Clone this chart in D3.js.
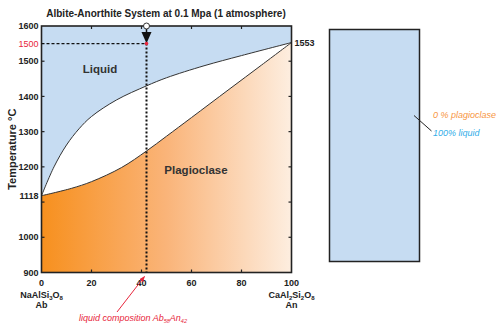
<!DOCTYPE html>
<html><head><meta charset="utf-8">
<script src="https://cdn.jsdelivr.net/npm/d3@7"></script>
<style>
body{margin:0;background:#fff;}
svg{font-family:"Liberation Sans",Arial,Helvetica,sans-serif;}
</style></head>
<body><svg id="c" width="500" height="325"></svg>
<script>
// ---- data ----
const title = "Albite-Anorthite System at 0.1 Mpa (1 atmosphere)";
const liquidusX = [0, 5, 10, 15, 20, 30, 42, 50, 65, 80, 100];
const liquidusT = [1118, 1200, 1262, 1308, 1343, 1390, 1430, 1453, 1487, 1516, 1553];
const solidusX = [0, 12, 20, 32, 42, 50, 60, 75, 88, 100];
const solidusT = [1118, 1139, 1158, 1198, 1245, 1287, 1340, 1420, 1489, 1553];
const yTickValues = [900, 1000, 1118, 1200, 1300, 1400, 1500, 1600];
const yTickLabels = ["900", "1000", "1118", "1200", "1300", "1400", "1500", "1600"];
const yMinorTicks = [1000, 1100, 1200, 1300, 1400, 1500];
const xTickValues = [0, 20, 40, 60, 80, 100];
const compositionAn = 42;
const markerTemp = 1550;
const markerLabel = "1500";
const meltingPointAn = 1553;
const fieldLabels = ["Liquid", "Plagioclase"];
const barLabels = ["0 % plagioclase", "100% liquid"];

// ---- layout ----
const svg = d3.select("#c");
const L = 41.5, R = 291.5, T = 26, B = 272.5;
const x = d3.scaleLinear().domain([0, 100]).range([L, R]);
const y = d3.scaleLinear().domain([900, 1600]).range([B, T]);
const blue = "#c6dcf2";

const defs = svg.append("defs");
const g = defs.append("linearGradient").attr("id", "og").attr("x1", 0).attr("x2", 1).attr("y1", 0).attr("y2", 0);
g.append("stop").attr("offset", 0).attr("stop-color", "#f7901e");
g.append("stop").attr("offset", 0.5).attr("stop-color", "#fab479");
g.append("stop").attr("offset", 1).attr("stop-color", "#fdeee0");
const mk = defs.append("marker").attr("id", "ra").attr("viewBox", "0 0 10 10").attr("refX", 9).attr("refY", 5)
  .attr("markerWidth", 6).attr("markerHeight", 6).attr("orient", "auto");
mk.append("path").attr("d", "M0,1L10,5L0,9Z").attr("fill", "#e8263c");

const liq = liquidusX.map((v, i) => [v, liquidusT[i]]);
const sol = solidusX.map((v, i) => [v, solidusT[i]]);
const curve = d3.curveCatmullRom.alpha(0.5);
const line = d3.line().x(d => x(d[0])).y(d => y(d[1])).curve(curve);

// background blue
svg.append("rect").attr("x", L).attr("y", T).attr("width", R - L).attr("height", B - T).attr("fill", blue);
// white between liquidus and solidus
const area = d3.area().x(d => x(d[0])).y0(B).y1(d => y(d[1])).curve(curve);
svg.append("path").datum(liq).attr("d", area).attr("fill", "#fff");
svg.append("path").datum(sol).attr("d", area).attr("fill", "url(#og)");
svg.append("path").datum(liq).attr("d", line).attr("fill", "none").attr("stroke", "#333").attr("stroke-width", 1);
svg.append("path").datum(sol).attr("d", line).attr("fill", "none").attr("stroke", "#333").attr("stroke-width", 1);

// frame
svg.append("rect").attr("x", L).attr("y", T).attr("width", R - L).attr("height", B - T)
  .attr("fill", "none").attr("stroke", "#222").attr("stroke-width", 1.6);

// ticks inside
const tk = svg.append("g").attr("stroke", "#222").attr("stroke-width", 1.2);
xTickValues.slice(1, -1).forEach(v => {
  tk.append("line").attr("x1", x(v)).attr("x2", x(v)).attr("y1", B).attr("y2", B - 3);
  tk.append("line").attr("x1", x(v)).attr("x2", x(v)).attr("y1", T).attr("y2", T + 3);
});
yMinorTicks.forEach(v => {
  tk.append("line").attr("x1", L).attr("x2", L + 3).attr("y1", y(v)).attr("y2", y(v));
  tk.append("line").attr("x1", R).attr("x2", R - 3).attr("y1", y(v)).attr("y2", y(v));
});

// tick labels
const lab = svg.append("g").attr("font-size", 9).attr("font-weight", "bold").attr("fill", "#222");
yTickValues.forEach((v, i) => {
  lab.append("text").attr("x", L - 3).attr("y", y(v)).attr("dy", "0.35em").attr("text-anchor", "end").text(yTickLabels[i]);
});
lab.append("text").attr("x", L - 3).attr("y", y(markerTemp)).attr("dy", "0.35em").attr("text-anchor", "end")
  .attr("fill", "#e8263c").attr("font-weight", "normal").text(markerLabel);
xTickValues.forEach(v => {
  lab.append("text").attr("x", x(v)).attr("y", B + 13).attr("text-anchor", "middle").text(v);
});
lab.append("text").attr("x", R + 3).attr("y", y(meltingPointAn)).attr("dy", "0.35em").text(meltingPointAn);

// endmember labels
const em = svg.append("g").attr("font-size", 9).attr("font-weight", "bold").attr("fill", "#222");
const t1 = em.append("text").attr("x", x(0)).attr("y", B + 25).attr("text-anchor", "middle");
t1.append("tspan").text("NaAlSi");
t1.append("tspan").attr("font-size", 6).attr("dy", 2).text("3");
t1.append("tspan").attr("dy", -2).text("O");
t1.append("tspan").attr("font-size", 6).attr("dy", 2).text("8");
em.append("text").attr("x", x(0)).attr("y", B + 35).attr("text-anchor", "middle").text("Ab");
const t2 = em.append("text").attr("x", x(100)).attr("y", B + 25).attr("text-anchor", "middle");
t2.append("tspan").text("CaAl");
t2.append("tspan").attr("font-size", 6).attr("dy", 2).text("2");
t2.append("tspan").attr("dy", -2).text("Si");
t2.append("tspan").attr("font-size", 6).attr("dy", 2).text("2");
t2.append("tspan").attr("dy", -2).text("O");
t2.append("tspan").attr("font-size", 6).attr("dy", 2).text("8");
em.append("text").attr("x", x(100)).attr("y", B + 35).attr("text-anchor", "middle").text("An");

// title & y label
svg.append("text").attr("x", 166).attr("y", 17).attr("text-anchor", "middle").attr("font-size", 10)
  .attr("font-weight", "bold").attr("fill", "#222").text(title);
svg.append("text").attr("transform", `translate(16,${(T + B) / 2}) rotate(-90)`).attr("text-anchor", "middle")
  .attr("font-size", 11).attr("font-weight", "bold").attr("fill", "#222").text("Temperature °C");

// field labels
svg.append("text").attr("x", 100).attr("y", 73).attr("text-anchor", "middle").attr("font-size", 11.5)
  .attr("font-weight", "bold").attr("fill", "#333").text(fieldLabels[0]);
svg.append("text").attr("x", 196).attr("y", 174).attr("text-anchor", "middle").attr("font-size", 11.5)
  .attr("font-weight", "bold").attr("fill", "#333").text(fieldLabels[1]);

// composition marker
const cx = x(compositionAn);
svg.append("line").attr("x1", L).attr("x2", cx).attr("y1", y(markerTemp)).attr("y2", y(markerTemp))
  .attr("stroke", "#111").attr("stroke-width", 1.3).attr("stroke-dasharray", "3,2");
svg.append("line").attr("x1", cx).attr("x2", cx).attr("y1", y(markerTemp)).attr("y2", B)
  .attr("stroke", "#111").attr("stroke-width", 2).attr("stroke-dasharray", "2,2");
svg.append("line").attr("x1", cx).attr("x2", cx).attr("y1", T).attr("y2", T + 8).attr("stroke", "#111").attr("stroke-width", 1.5);
svg.append("path").attr("d", `M${cx - 5},${T + 6}L${cx + 5},${T + 6}L${cx},${y(markerTemp)}Z`).attr("fill", "#111");
svg.append("circle").attr("cx", cx).attr("cy", y(markerTemp)).attr("r", 1.8).attr("fill", "#e8263c");
svg.append("circle").attr("cx", cx).attr("cy", T).attr("r", 3).attr("fill", "#fff").attr("stroke", "#333").attr("stroke-width", 1);

// red annotation
svg.append("line").attr("x1", 117).attr("y1", 312).attr("x2", cx - 2).attr("y2", B + 4)
  .attr("stroke", "#e8263c").attr("stroke-width", 1).attr("marker-end", "url(#ra)");
const ann = svg.append("text").attr("x", 79).attr("y", 321).attr("font-size", 9).attr("font-style", "italic").attr("fill", "#e8263c");
ann.append("tspan").text("liquid composition Ab");
ann.append("tspan").attr("font-size", 5.5).attr("dy", 2).text(100 - compositionAn);
ann.append("tspan").attr("dy", -2).text("An");
ann.append("tspan").attr("font-size", 5.5).attr("dy", 2).text(compositionAn);

// right bar
svg.append("rect").attr("x", 329.5).attr("y", 29.5).attr("width", 90).attr("height", 232)
  .attr("fill", blue).attr("stroke", "#222").attr("stroke-width", 1.5);
svg.append("line").attr("x1", 414).attr("y1", 115.5).attr("x2", 431.5).attr("y2", 131).attr("stroke", "#222").attr("stroke-width", 1);
svg.append("text").attr("x", 433).attr("y", 118).attr("font-size", 9).attr("font-style", "italic").attr("fill", "#f7963f").text(barLabels[0]);
svg.append("text").attr("x", 433).attr("y", 136).attr("font-size", 9).attr("font-style", "italic").attr("fill", "#33aee8").text(barLabels[1]);
</script></body></html>
